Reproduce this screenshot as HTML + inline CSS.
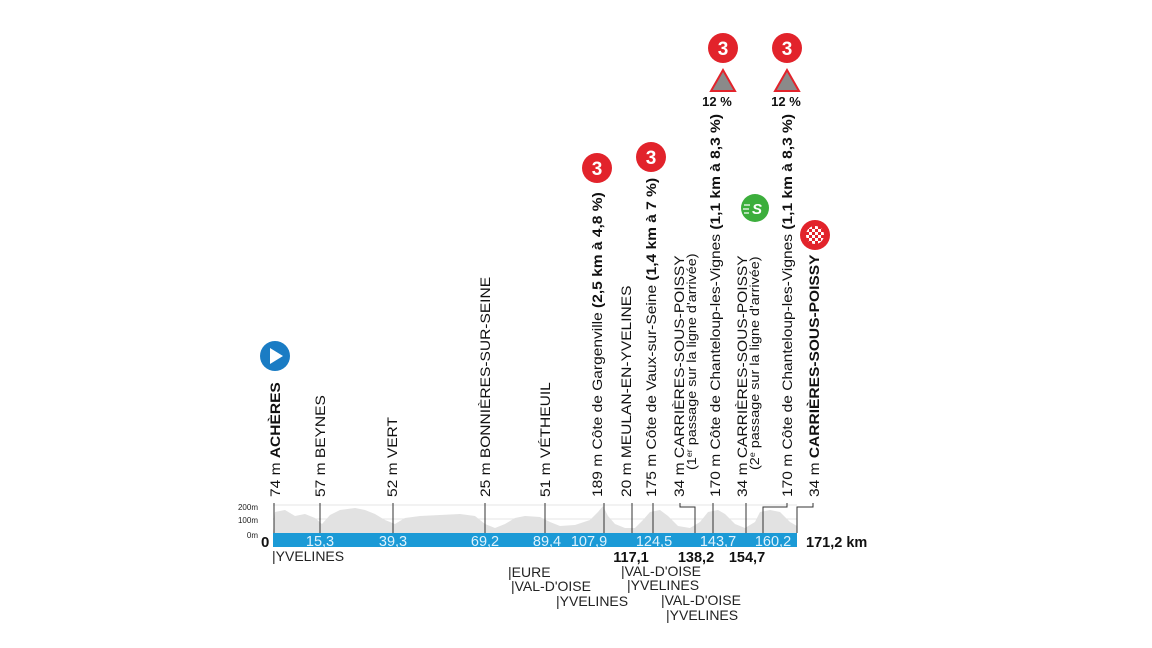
<!DOCTYPE html>
<html><head><meta charset="utf-8"><style>
html,body{margin:0;padding:0;background:#fff;}
svg{display:block;font-family:"Liberation Sans",Arial,sans-serif;}
</style></head><body>
<svg width="1152" height="648" viewBox="0 0 1152 648">
<line x1="273" y1="505" x2="797" y2="505" stroke="#e4e4e4" stroke-width="1"/>
<line x1="273" y1="519" x2="797" y2="519" stroke="#e4e4e4" stroke-width="1"/>
<polygon fill="#e2e2e2" points="273,533 275,512 285,510 295,516 305,514 315,518 322,524 330,515 340,510 355,508 365,510 375,514 385,520 395,524 405,518 420,516 440,515 460,514 475,516 485,524 495,528 505,524 515,518 525,516 540,517 550,522 560,526 575,525 590,520 598,512 603,506 608,516 615,524 625,528 635,528 643,520 650,512 660,510 668,516 678,526 690,528 700,522 708,512 718,510 725,514 735,524 745,528 755,522 760,512 770,510 780,512 790,522 797,526 797,533"/>
<text x="258" y="510" font-size="8" text-anchor="end" fill="#222">200m</text>
<text x="258" y="523" font-size="8" text-anchor="end" fill="#222">100m</text>
<text x="258" y="538" font-size="8" text-anchor="end" fill="#222">0m</text>
<text x="261" y="547" font-size="15" font-weight="bold" fill="#111">0</text>
<g stroke="#333" stroke-width="1">
<line x1="274" y1="503" x2="274" y2="533"/>
<line x1="320" y1="503" x2="320" y2="533"/>
<line x1="393" y1="503" x2="393" y2="533"/>
<line x1="485" y1="503" x2="485" y2="533"/>
<line x1="545" y1="503" x2="545" y2="533"/>
<line x1="604" y1="503" x2="604" y2="533"/>
<line x1="632" y1="503" x2="632" y2="533"/>
<line x1="653" y1="503" x2="653" y2="533"/>
<polyline fill="none" points="680,503 680,507 695,507 695,533"/>
<line x1="713" y1="503" x2="713" y2="533"/>
<line x1="746" y1="503" x2="746" y2="533"/>
<polyline fill="none" points="787,503 787,507 763,507 763,533"/>
<polyline fill="none" points="813,503 813,507 797,507 797,533"/>
</g>
<rect x="273" y="533" width="524" height="14" fill="#1b9ad6"/>
<g fill="#dff2fc" font-size="14.5" text-anchor="middle">
<text x="320" y="546">15,3</text><text x="393" y="546">39,3</text><text x="485" y="546">69,2</text>
<text x="547" y="546">89,4</text><text x="589" y="546">107,9</text><text x="654" y="546">124,5</text>
<text x="718" y="546">143,7</text><text x="773" y="546">160,2</text>
</g>
<text x="806" y="547" font-size="14.5" font-weight="bold" fill="#111">171,2 km</text>
<g font-size="14.5" font-weight="bold" text-anchor="middle" fill="#111">
<text x="631" y="562">117,1</text><text x="696" y="562">138,2</text><text x="747" y="562">154,7</text>
</g>
<g font-size="14" fill="#222">
<text x="272" y="561">|YVELINES</text>
<text x="508" y="577">|EURE</text>
<text x="511" y="591">|VAL-D'OISE</text>
<text x="556" y="606">|YVELINES</text>
<text x="621" y="576">|VAL-D'OISE</text>
<text x="627" y="590">|YVELINES</text>
<text x="661" y="605">|VAL-D'OISE</text>
<text x="666" y="620">|YVELINES</text>
</g>
<g font-size="14" fill="#111">
<text transform="translate(280,497) rotate(-90) scale(1.11,1)">74 m <tspan font-weight="bold">ACHÈRES</tspan></text>
<text transform="translate(325,497) rotate(-90) scale(1.11,1)">57 m BEYNES</text>
<text transform="translate(397,497) rotate(-90) scale(1.11,1)">52 m VERT</text>
<text transform="translate(490,497) rotate(-90) scale(1.11,1)">25 m BONNIÈRES-SUR-SEINE</text>
<text transform="translate(550,497) rotate(-90) scale(1.11,1)">51 m VÉTHEUIL</text>
<text transform="translate(602,497) rotate(-90) scale(1.11,1)">189 m Côte de Gargenville <tspan font-weight="bold">(2,5 km à 4,8 %)</tspan></text>
<text transform="translate(631,497) rotate(-90) scale(1.11,1)">20 m MEULAN-EN-YVELINES</text>
<text transform="translate(656,497) rotate(-90) scale(1.11,1)">175 m Côte de Vaux-sur-Seine <tspan font-weight="bold">(1,4 km à 7 %)</tspan></text>
<text transform="translate(684,497) rotate(-90) scale(1.11,1)">34 m CARRIÈRES-SOUS-POISSY</text>
<text transform="translate(696,470) rotate(-90) scale(1.11,1)" font-size="13">(1<tspan font-size="8" dy="-4">er</tspan><tspan dy="4"> passage sur la ligne d'arrivée)</tspan></text>
<text transform="translate(720,497) rotate(-90) scale(1.11,1)">170 m Côte de Chanteloup-les-Vignes <tspan font-weight="bold">(1,1 km à 8,3 %)</tspan></text>
<text transform="translate(747,497) rotate(-90) scale(1.11,1)">34 m CARRIÈRES-SOUS-POISSY</text>
<text transform="translate(759,470) rotate(-90) scale(1.11,1)" font-size="13">(2<tspan font-size="8" dy="-4">e</tspan><tspan dy="4"> passage sur la ligne d'arrivée)</tspan></text>
<text transform="translate(792,497) rotate(-90) scale(1.11,1)">170 m Côte de Chanteloup-les-Vignes <tspan font-weight="bold">(1,1 km à 8,3 %)</tspan></text>
<text transform="translate(819,497) rotate(-90) scale(1.11,1)">34 m <tspan font-weight="bold">CARRIÈRES-SOUS-POISSY</tspan></text>
</g>
<circle cx="275" cy="356" r="15" fill="#1a7cc4"/>
<polygon points="270,348 270,364 283,356" fill="#fff"/>
<g font-size="19" font-weight="bold" fill="#fff" text-anchor="middle">
<circle cx="597" cy="168" r="15" fill="#e2232b"/><text x="597" y="175">3</text>
<circle cx="651" cy="157" r="15" fill="#e2232b"/><text x="651" y="164">3</text>
<circle cx="723" cy="48" r="15" fill="#e2232b"/><text x="723" y="55">3</text>
<circle cx="787" cy="48" r="15" fill="#e2232b"/><text x="787" y="55">3</text>
</g>
<polygon points="723,70 711,91 735,91" fill="#8a8a8a" stroke="#e2232b" stroke-width="2"/>
<polygon points="787,70 775,91 799,91" fill="#8a8a8a" stroke="#e2232b" stroke-width="2"/>
<g font-size="13" font-weight="bold" fill="#111" text-anchor="middle">
<text x="717" y="106">12 %</text><text x="786" y="106">12 %</text>
</g>
<circle cx="755" cy="208" r="14" fill="#3cae3c"/>
<text x="757" y="214" font-size="15" font-weight="bold" font-style="italic" fill="#fff" text-anchor="middle">S</text>
<g stroke="#fff" stroke-width="1.2"><line x1="744" y1="205" x2="750" y2="205"/><line x1="743" y1="209" x2="749" y2="209"/><line x1="744" y1="213" x2="749" y2="213"/></g>
<circle cx="815" cy="235" r="15" fill="#e2232b"/>
<circle cx="815" cy="235" r="9" fill="#fff"/>
<g fill="#e2232b">
<rect x="806" y="226" width="3" height="3"/><rect x="812" y="226" width="3" height="3"/><rect x="818" y="226" width="3" height="3"/>
<rect x="809" y="229" width="3" height="3"/><rect x="815" y="229" width="3" height="3"/><rect x="821" y="229" width="3" height="3"/>
<rect x="806" y="232" width="3" height="3"/><rect x="812" y="232" width="3" height="3"/><rect x="818" y="232" width="3" height="3"/>
<rect x="809" y="235" width="3" height="3"/><rect x="815" y="235" width="3" height="3"/><rect x="821" y="235" width="3" height="3"/>
<rect x="806" y="238" width="3" height="3"/><rect x="812" y="238" width="3" height="3"/><rect x="818" y="238" width="3" height="3"/>
<rect x="809" y="241" width="3" height="3"/><rect x="815" y="241" width="3" height="3"/>
</g>
</svg>
</body></html>
